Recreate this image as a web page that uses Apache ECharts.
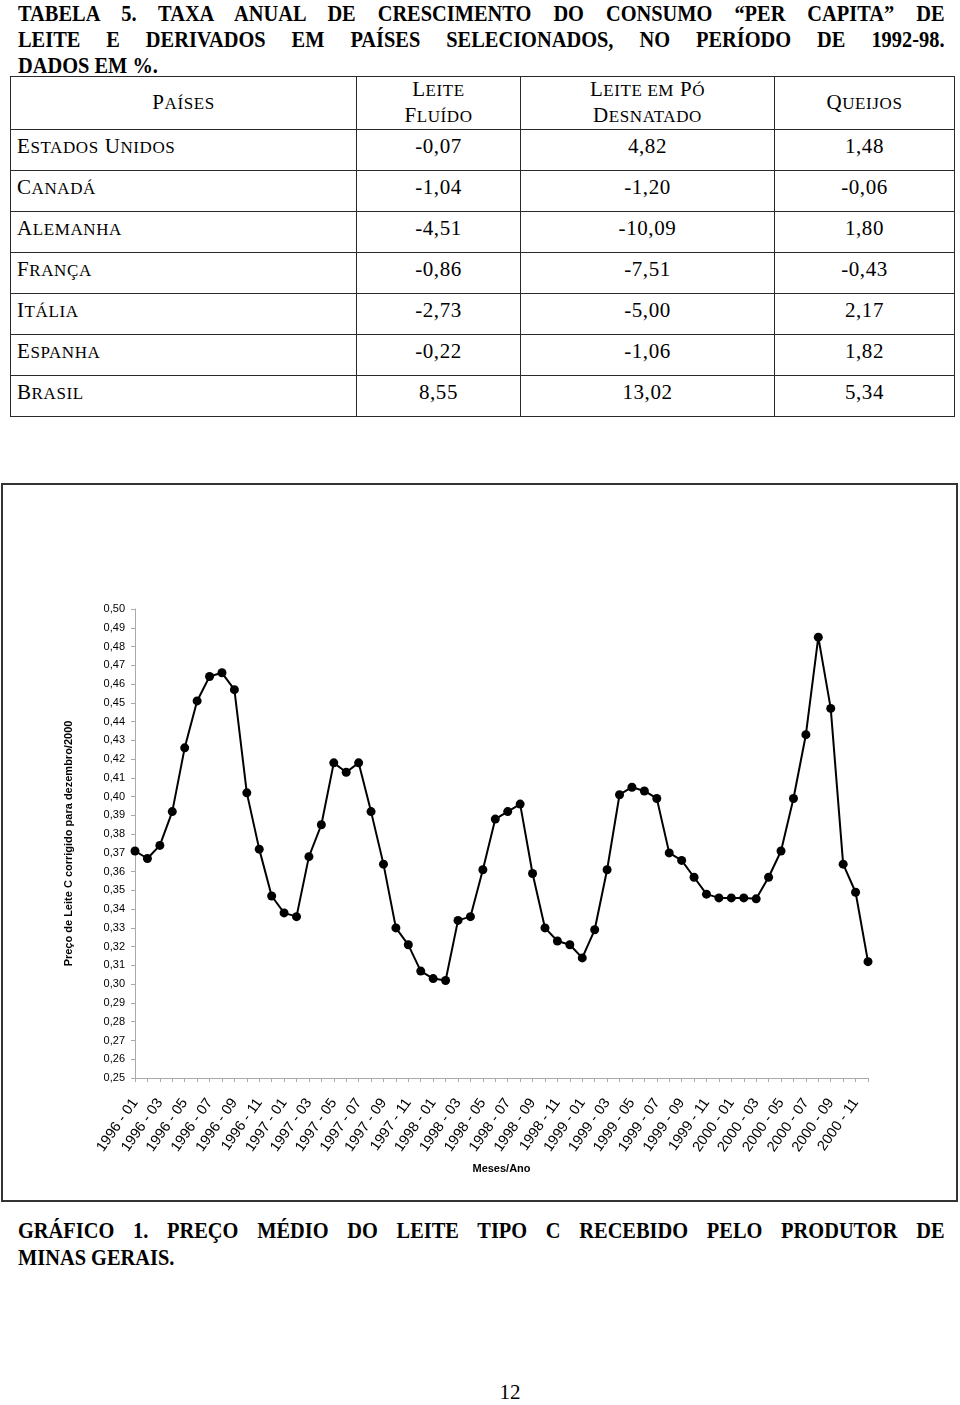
<!DOCTYPE html>
<html>
<head>
<meta charset="utf-8">
<script src="https://cdn.jsdelivr.net/npm/echarts@6/dist/echarts.min.js"></script>
<style>
  html, body { margin:0; padding:0; background:#fff; }
  body { width:960px; height:1405px; position:relative; overflow:hidden; }
  .tl { position:absolute; left:18px; width:1090px; transform:scaleX(0.85); transform-origin:0 0;
        font-family:"Liberation Serif","Times New Roman",serif; font-weight:bold; font-size:24px;
        line-height:26px; color:#000; white-space:nowrap; }
  .j { text-align:justify; text-align-last:justify; white-space:normal; }
  table { position:absolute; left:10px; top:76px; border-collapse:collapse;
          font-family:"Liberation Serif","Times New Roman",serif; color:#000; table-layout:fixed; }
  td { border:1.5px solid #2a2a2a; padding:0; font-size:21px; letter-spacing:0.6px; }
  tr.h td { height:50px; text-align:center; vertical-align:middle; line-height:25px; }
  tr.r td { height:36px; vertical-align:top; padding-top:4px; line-height:24px; text-align:center; }
  tr.r td.n { text-align:left; padding-left:6px; }
  .sc { font-size:17px; }
  #box { position:absolute; left:1px; top:483px; width:957px; height:719px; border:2px solid #333; box-sizing:border-box; pointer-events:none; }
  #chart { position:absolute; left:2px; top:484px; width:956px; height:718px; }
  #pg { position:absolute; left:0; width:1020px; top:1380px; text-align:center; font-family:"Liberation Serif",serif; font-size:21px; }
</style>
</head>
<body>
<div class="tl j" style="top:0px">TABELA 5. TAXA ANUAL DE CRESCIMENTO DO CONSUMO “PER CAPITA” DE</div>
<div class="tl j" style="top:26px">LEITE E DERIVADOS EM PAÍSES SELECIONADOS, NO PERÍODO DE 1992-98.</div>
<div class="tl" style="top:52px">DADOS EM %.</div>

<table>
  <colgroup><col style="width:346px"><col style="width:164px"><col style="width:254px"><col style="width:180px"></colgroup>
  <tr class="h">
    <td>P<span class="sc">AÍSES</span></td>
    <td>L<span class="sc">EITE</span><br>F<span class="sc">LUÍDO</span></td>
    <td>L<span class="sc">EITE EM</span> P<span class="sc">Ó</span><br>D<span class="sc">ESNATADO</span></td>
    <td>Q<span class="sc">UEIJOS</span></td>
  </tr>
  <tr class="r"><td class="n">E<span class="sc">STADOS</span> U<span class="sc">NIDOS</span></td><td>-0,07</td><td>4,82</td><td>1,48</td></tr>
  <tr class="r"><td class="n">C<span class="sc">ANADÁ</span></td><td>-1,04</td><td>-1,20</td><td>-0,06</td></tr>
  <tr class="r"><td class="n">A<span class="sc">LEMANHA</span></td><td>-4,51</td><td>-10,09</td><td>1,80</td></tr>
  <tr class="r"><td class="n">F<span class="sc">RANÇA</span></td><td>-0,86</td><td>-7,51</td><td>-0,43</td></tr>
  <tr class="r"><td class="n">I<span class="sc">TÁLIA</span></td><td>-2,73</td><td>-5,00</td><td>2,17</td></tr>
  <tr class="r"><td class="n">E<span class="sc">SPANHA</span></td><td>-0,22</td><td>-1,06</td><td>1,82</td></tr>
  <tr class="r"><td class="n">B<span class="sc">RASIL</span></td><td>8,55</td><td>13,02</td><td>5,34</td></tr>
</table>

<div id="chart"></div>
<div id="box"></div>

<div class="tl j" style="top:1217px">GRÁFICO 1. PREÇO MÉDIO DO LEITE TIPO C RECEBIDO PELO PRODUTOR DE</div>
<div class="tl" style="top:1244px">MINAS GERAIS.</div>
<div id="pg">12</div>

<script>
const months = [
  '1996 - 01','1996 - 02','1996 - 03','1996 - 04','1996 - 05','1996 - 06','1996 - 07','1996 - 08','1996 - 09','1996 - 10','1996 - 11','1996 - 12',
  '1997 - 01','1997 - 02','1997 - 03','1997 - 04','1997 - 05','1997 - 06','1997 - 07','1997 - 08','1997 - 09','1997 - 10','1997 - 11','1997 - 12',
  '1998 - 01','1998 - 02','1998 - 03','1998 - 04','1998 - 05','1998 - 06','1998 - 07','1998 - 08','1998 - 09','1998 - 10','1998 - 11','1998 - 12',
  '1999 - 01','1999 - 02','1999 - 03','1999 - 04','1999 - 05','1999 - 06','1999 - 07','1999 - 08','1999 - 09','1999 - 10','1999 - 11','1999 - 12',
  '2000 - 01','2000 - 02','2000 - 03','2000 - 04','2000 - 05','2000 - 06','2000 - 07','2000 - 08','2000 - 09','2000 - 10','2000 - 11','2000 - 12'
];
const prices = [
  0.371, 0.367, 0.374, 0.392, 0.426, 0.451, 0.464, 0.466, 0.457, 0.402, 0.372, 0.347,
  0.338, 0.336, 0.368, 0.385, 0.418, 0.413, 0.418, 0.392, 0.364, 0.330, 0.321, 0.307,
  0.303, 0.302, 0.334, 0.336, 0.361, 0.388, 0.392, 0.396, 0.359, 0.330, 0.323, 0.321,
  0.314, 0.329, 0.361, 0.401, 0.405, 0.403, 0.399, 0.370, 0.366, 0.357, 0.348, 0.346,
  0.346, 0.346, 0.3455, 0.357, 0.371, 0.399, 0.433, 0.485, 0.447, 0.364, 0.349, 0.312
];
const yMin = 0.25, yMax = 0.50, yStep = 0.01;
const yTitle = 'Preço de Leite C corrigido para dezembro/2000';
const xTitle = 'Meses/Ano';

const chart = echarts.init(document.getElementById('chart'), null, {renderer:'canvas'});
chart.setOption({
  animation: false,
  backgroundColor: 'transparent',
  grid: { left: 133, top: 125, width: 733, height: 469, containLabel: false },
  xAxis: {
    type: 'category', data: months, boundaryGap: false,
    name: xTitle, nameLocation: 'middle', nameGap: 85,
    nameTextStyle: { fontFamily: 'Liberation Sans', fontWeight: 'bold', fontSize: 11, color: '#000' },
    axisLine: { lineStyle: { color: '#aaa', width: 1 } },
    axisTick: { show: true, interval: 0, length: 4, lineStyle: { color: '#aaa' } },
    axisLabel: { interval: 1, rotate: 55, margin: 22, fontFamily: 'Liberation Sans', fontSize: 14.5, color: '#000' },
    splitLine: { show: false }
  },
  yAxis: {
    type: 'value', min: yMin, max: yMax, interval: yStep,
    name: yTitle, nameLocation: 'middle', nameGap: 61,
    nameTextStyle: { fontFamily: 'Liberation Sans', fontWeight: 'bold', fontSize: 11, color: '#000' },
    axisLine: { show: true, lineStyle: { color: '#aaa', width: 1 } },
    axisTick: { show: true, length: 4, lineStyle: { color: '#aaa' } },
    axisLabel: { margin: 10, fontFamily: 'Liberation Sans', fontSize: 11, color: '#000',
      formatter: v => v.toFixed(2).replace('.', ',') },
    splitLine: { show: false }
  },
  series: [{
    type: 'line', data: prices,
    symbol: 'circle', symbolSize: 9, showSymbol: true, showAllSymbol: true,
    lineStyle: { color: '#000', width: 2 },
    itemStyle: { color: '#000' }
  }]
});
</script>
</body>
</html>
